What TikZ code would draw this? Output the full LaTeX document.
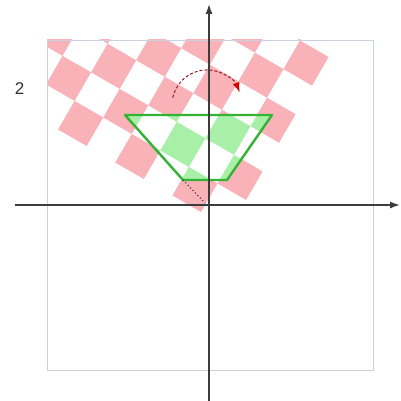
\documentclass[tikz,border=0pt]{standalone}
\usepackage{fontspec}
\setmainfont{Liberation Sans}
\usetikzlibrary{arrows.meta}
\definecolor{pinkcell}{RGB}{248,178,184}
\definecolor{greencell}{RGB}{168,240,168}
\definecolor{trapgreen}{RGB}{52,178,52}
\definecolor{framecol}{RGB}{205,208,225}
\definecolor{axiscol}{RGB}{60,60,60}
\definecolor{arcred}{RGB}{150,30,40}
\tikzset{
  frameline/.style={draw=framecol, line width=0.8pt},
  axisline/.style={draw=axiscol, line width=1.4pt, -{Latex[length=10pt,width=7pt]}},
  trapline/.style={draw=trapgreen, line width=2.4pt, line join=round},
  rotarc/.style={draw=arcred, line width=1pt, dash pattern=on 3pt off 2pt, -{Latex[length=10pt,width=7pt,color=red!85!black]}},
  dotline/.style={draw=black!80, line width=1.2pt, dash pattern=on 1pt off 2.5pt},
  lbl/.style={font=\fontsize{17}{17}\selectfont, text=black!80, inner sep=0pt},
  gridsys/.style={shift={(201,212)}, x={(16.5pt,28.58pt)}, y={(-28.58pt,16.5pt)}}
}
\begin{document}
\begin{tikzpicture}[x=1pt,y=-1pt]
\useasboundingbox (0,0) rectangle (400,401);
\fill[white] (0,0) rectangle (400,401);
% named points
\coordinate (fA) at (47,40);
\coordinate (fB) at (373,370);
\coordinate (tl) at (125,115);
\coordinate (tr) at (272,115);
\coordinate (br) at (227,180);
\coordinate (bl) at (183,180);
\coordinate (org) at (205,203);
% pink checkerboard
\begin{scope}
  \clip (fA) rectangle (fB);
  \begin{scope}[gridsys]
    \foreach \i in {0,...,9}{
      \foreach \j in {-1,...,9}{
        \pgfmathtruncatemacro\cpar{mod(\i+\j+2,2)}
        \ifnum\cpar=0 \fill[pinkcell] (\i,\j) -- ++(1,0) -- ++(0,1) -- ++(-1,0) -- cycle;\fi
      }
    }
  \end{scope}
\end{scope}
% trapezoid interior
\fill[white] (tl) -- (tr) -- (br) -- (bl) -- cycle;
\begin{scope}
  \clip (tl) -- (tr) -- (br) -- (bl) -- cycle;
  \begin{scope}[gridsys]
    \foreach \i in {0,...,9}{
      \foreach \j in {-1,...,9}{
        \pgfmathtruncatemacro\cpar{mod(\i+\j+2,2)}
        \ifnum\cpar=0 \fill[greencell] (\i,\j) -- ++(1,0) -- ++(0,1) -- ++(-1,0) -- cycle;\fi
      }
    }
  \end{scope}
\end{scope}
% frame
\draw[frameline] (fA) rectangle (fB);
% trapezoid outline
\draw[trapline] (tl) -- (tr) -- (br) -- (bl) -- cycle;
% dotted line
\draw[dotline] (bl) -- (org);
% axes
\coordinate (xl) at (15,205);
\coordinate (xr) at (400,205);
\coordinate (yb) at (209,401);
\coordinate (yt) at (209,4);
\draw[axisline] (xl) -- (xr);
\draw[axisline] (yb) -- (yt);
% rotation arc
\coordinate (as) at (172.8,97.7);
\draw[rotarc] (as) arc[start angle=168, end angle=21, radius=35pt];
% label
\node[lbl] (two) at (19.5,89) {2};
\end{tikzpicture}
\end{document}
